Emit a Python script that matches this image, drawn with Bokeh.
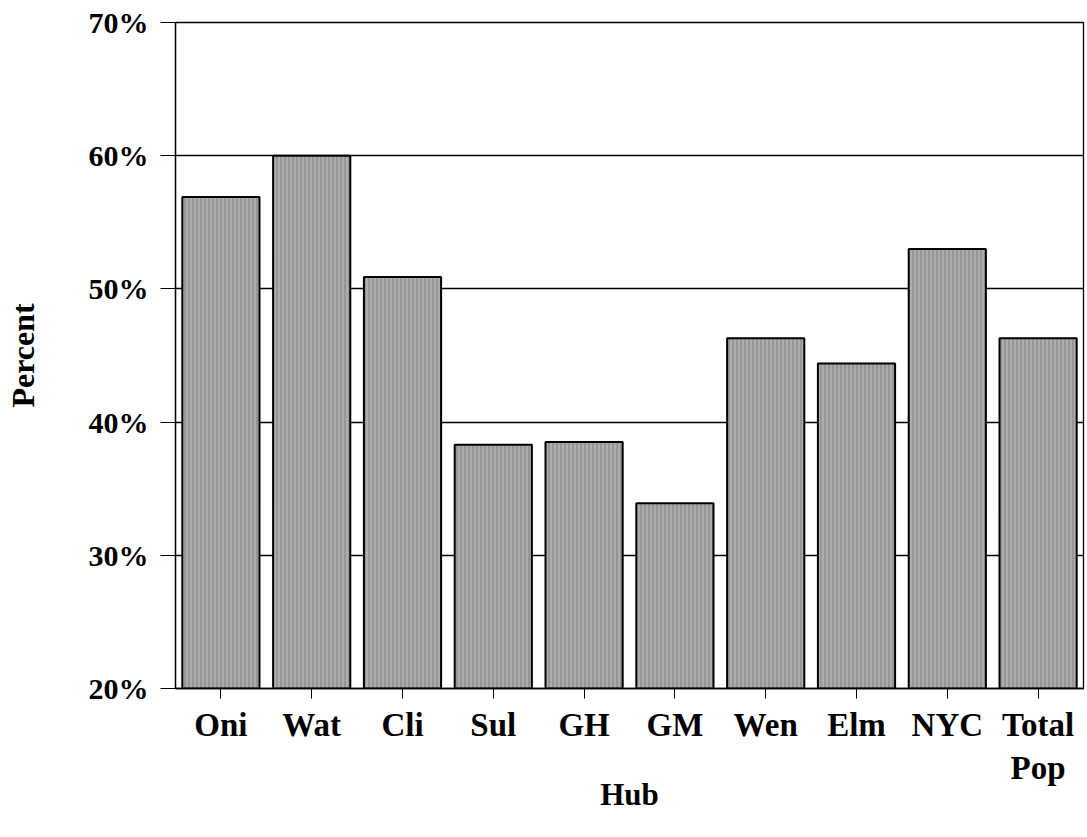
from bokeh.plotting import figure
from bokeh.models import PrintfTickFormatter, FixedTicker
from bokeh.embed import file_html
from bokeh.resources import INLINE

hubs = ["Oni", "Wat", "Cli", "Sul", "GH", "GM", "Wen", "Elm", "NYC", "Total\nPop"]
percent = [56.9, 60.0, 50.9, 38.3, 38.5, 33.9, 46.3, 44.4, 53.0, 46.3]
y_ticks = [20, 30, 40, 50, 60, 70]

FONT = "Liberation Serif"

p = figure(x_range=hubs, y_range=(20, 70), width=1085, height=829,
           output_backend="svg", toolbar_location=None,
           min_border_left=175, min_border_right=2, min_border_top=22,
           min_border_bottom=141)

p.vbar(x=hubs, top=percent, bottom=20, width=0.85,
       fill_color="#969696", line_color="black", line_width=2,
       hatch_pattern="vertical_line", hatch_color="#c4c4c4",
       hatch_scale=4, hatch_weight=1)

p.xgrid.grid_line_color = None
p.ygrid.grid_line_color = "black"
p.ygrid.grid_line_width = 1.3
p.ygrid.level = "underlay"
p.outline_line_color = "black"
p.outline_line_width = 1.3

p.yaxis.ticker = FixedTicker(ticks=y_ticks)
p.yaxis.formatter = PrintfTickFormatter(format="%d%%")
p.yaxis.minor_tick_line_color = None
p.yaxis.major_tick_out = 15
p.yaxis.major_tick_in = 0
p.yaxis.major_label_standoff = 12
p.xaxis.major_tick_out = 10
p.xaxis.major_tick_in = 0
p.xaxis.major_label_standoff = 8

for ax in (p.xaxis, p.yaxis):
    ax.axis_line_color = "black"
    ax.axis_line_width = 1.3
    ax.major_tick_line_color = "black"
    ax.major_label_text_font = FONT
    ax.major_label_text_font_style = "bold"
    ax.major_label_text_color = "black"
    ax.axis_label_text_font = FONT
    ax.axis_label_text_font_style = "bold"
    ax.axis_label_text_color = "black"

p.yaxis.major_label_text_font_size = "30px"
p.xaxis.major_label_text_font_size = "33px"
p.xaxis.axis_label_text_font_size = "31px"
p.yaxis.axis_label_text_font_size = "32px"

p.xaxis.axis_label = "Hub"
p.xaxis.axis_label_standoff = -12
p.yaxis.axis_label = "Percent"
p.yaxis.axis_label_standoff = 45

open("out.html", "w").write(file_html(p, INLINE))
